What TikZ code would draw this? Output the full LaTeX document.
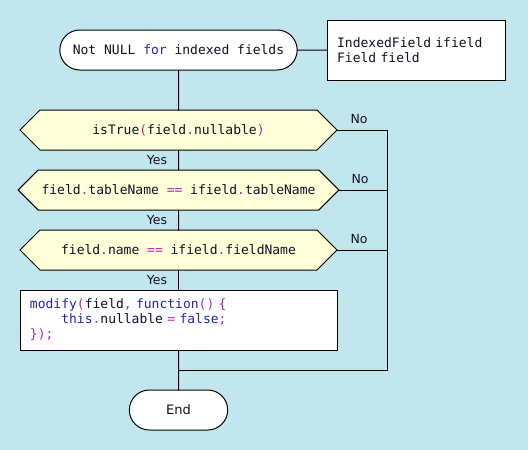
\documentclass[tikz,border=0pt]{standalone}
\usepackage{fontspec}
\setmainfont{DejaVu Sans}
\newfontfamily\codefont{DejaVu Sans Mono}
\usetikzlibrary{shapes.symbols,shapes.misc,positioning}
\definecolor{bgblue}{HTML}{C2E6EE}
\definecolor{condfill}{HTML}{FFFFD8}
\definecolor{kwblue}{HTML}{2424B8}
\definecolor{opmag}{HTML}{B424B4}
\definecolor{txtdark}{HTML}{101028}
\newcommand{\kw}[1]{\textcolor{kwblue}{#1}}
\newcommand{\op}[1]{\textcolor{opmag}{#1}}
\newcommand{\codesize}{\codefont\fontsize{13}{15}\selectfont
  \fontdimen2\font=\fontcharwd\font`\a \fontdimen3\font=0pt \fontdimen4\font=0pt}

\begin{document}
\begin{tikzpicture}[x=1pt,y=-1pt,node distance=20pt,line width=1pt,outer sep=0pt,
  font=\codesize,text=txtdark,
  term/.style={rounded rectangle,draw,fill=white,minimum width=244pt,minimum height=40pt},
  cond/.style={signal,signal to=west and east,signal pointer angle=90,draw,fill=condfill,minimum width=317pt,minimum height=40pt},
  proc/.style={draw,fill=white,align=left,text width=297pt,minimum height=60pt,inner xsep=10pt},
  note/.style={draw,fill=white,align=left,text width=158pt,minimum height=60pt,inner xsep=10pt},
  lbl/.style={font=\rmfamily\fontsize{12.5}{14}\selectfont},
  yes/.style={lbl,left,xshift=-8pt},
  no/.style={lbl,above,pos=0.44,yshift=3pt}]
\useasboundingbox[fill=bgblue] (0,0) rectangle (528,450);
\node[term] (start) at (178.5,50) {Not NULL \kw{for} indexed fields};
\node[note] (vars) [right=30pt of start] {IndexedField ifield\\Field field};
\node[cond] (c1) [below=40pt of start] {isTrue\op{(}field\op{.}nullable\op{)}};
\node[cond] (c2) [below=of c1] {field\op{.}tableName \op{==} ifield\op{.}tableName};
\node[cond] (c3) [below=of c2] {field\op{.}name \op{==} ifield\op{.}fieldName};
\node[proc] (act) [below=of c3] {\kw{modify}\op{(}field\op{,} \kw{function}\op{() \{}\\
\hspace*{4\fontcharwd\font`\a}\kw{this}\op{.}nullable \op{=} \kw{false}\op{;}\\
\op{\});}};
\node[term,minimum width=105pt] (end) [below=40pt of act] {\rmfamily End};
\coordinate (rail) at (387,130);
\coordinate (join) at (178.5,370);
\draw (start) -- (vars);
\draw (start) -- (c1);
\draw (c1) -- node[yes] {Yes} (c2);
\draw (c2) -- node[yes] {Yes} (c3);
\draw (c3) -- node[yes] {Yes} (act);
\draw (act) -- (end);
\draw (c1.east) -- node[no] {No} (rail) |- (join);
\draw (c2.east) -- node[no] {No} (c2.east -| rail);
\draw (c3.east) -- node[no] {No} (c3.east -| rail);
\end{tikzpicture}
\end{document}
